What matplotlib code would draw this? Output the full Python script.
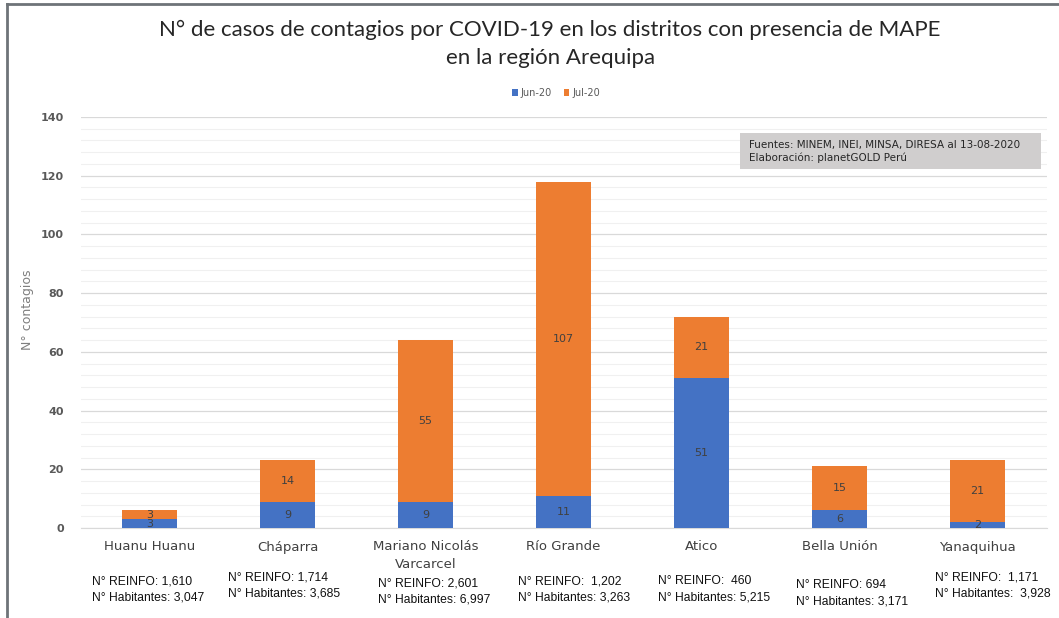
import numpy as np
import matplotlib.pyplot as plt
from matplotlib.patches import Rectangle
from matplotlib.lines import Line2D

# datos
distritos = ["Huanu Huanu", "Cháparra", "Mariano Nicolás\nVarcarcel", "Río Grande",
             "Atico", "Bella Unión", "Yanaquihua"]
jun20 = [3, 9, 9, 11, 51, 6, 2]
jul20 = [3, 14, 55, 107, 21, 15, 21]
reinfo = ["1,610", "1,714", "2,601", " 1,202", " 460", "694", " 1,171"]
habitantes = ["3,047", "3,685", "6,997", "3,263", "5,215", "3,171", " 3,928"]

azul = "#4472C4"
naranja = "#ED7D31"
gris = "#595959"

W, H = 1059, 618
fig = plt.figure(figsize=(W / 100, H / 100), dpi=100)

def fx(px):
    return px / W

def fy(py):
    return 1 - py / H

ax = fig.add_axes([fx(80.5), fy(528), fx(966), fy(117) - fy(528)])

x = np.arange(len(distritos))
ax.bar(x, jun20, width=0.4, color=azul, zorder=3, label="Jun-20")
ax.bar(x, jul20, width=0.4, bottom=jun20, color=naranja, zorder=3, label="Jul-20")

for i in range(len(distritos)):
    ax.text(x[i], jun20[i] / 2, str(jun20[i]), ha="center", va="center",
            fontsize=8, color="#404040", zorder=4)
    ax.text(x[i], jun20[i] + jul20[i] / 2, str(jul20[i]), ha="center", va="center",
            fontsize=8, color="#404040", zorder=4)

ax.set_xlim(-0.5, len(distritos) - 0.5)
ax.set_ylim(0, 140)
ax.set_yticks(np.arange(0, 141, 20))
ax.set_yticks(np.arange(0, 141, 4), minor=True)
ax.grid(axis="y", which="major", color="#D9D9D9", lw=0.9, zorder=0)
ax.grid(axis="y", which="minor", color="#F0F0F0", lw=0.8, zorder=0)
for s in ["top", "right", "left"]:
    ax.spines[s].set_visible(False)
ax.spines["bottom"].set_color("#D9D9D9")
ax.tick_params(axis="y", which="both", length=0, pad=12, labelsize=8, labelcolor=gris)
for t in ax.get_yticklabels():
    t.set_fontweight("bold")
ax.tick_params(axis="x", length=0, pad=9, labelsize=9.5, labelcolor="#404040")
ax.set_xticks(x)
ax.set_xticklabels(distritos, linespacing=1.4)
ax.set_ylabel("N° contagios", fontsize=9, color="#7F7F7F", fontweight="medium")
ax.yaxis.set_label_coords(-(80.5 - 34) / 966, 0.53)

# titulo y leyenda
fig.text(0.5195, fy(30), "N° de casos de contagios por COVID-19 en los distritos con presencia de MAPE",
         ha="center", va="center", fontsize=16, color="#262626", family="Lato")
fig.text(0.5195, fy(58), "en la región Arequipa",
         ha="center", va="center", fontsize=16, color="#262626", family="Lato")
leg = fig.legend(loc="center", bbox_to_anchor=(fx(556), fy(93)), ncol=2, frameon=False,
                 fontsize=7, handlelength=0.6, handleheight=0.6, handletextpad=0.3,
                 columnspacing=1.2)
for t in leg.get_texts():
    t.set_color(gris)

# cuadro de fuentes
fig.patches.append(Rectangle((fx(740), fy(169)), fx(301), fy(133) - fy(169),
                             transform=fig.transFigure, facecolor="#D0CECE",
                             edgecolor="none", zorder=5))
fig.text(fx(749), fy(145), "Fuentes: MINEM, INEI, MINSA, DIRESA al 13-08-2020",
         fontsize=7.5, color="#262626", va="center", zorder=6)
fig.text(fx(749), fy(158), "Elaboración: planetGOLD Perú",
         fontsize=7.5, color="#262626", va="center", zorder=6)

# notas por distrito
notas_x = [92, 228, 378, 518, 658, 796, 935]
notas_y = [581, 577, 583, 581, 581, 585, 578]
for i in range(len(distritos)):
    fig.text(fx(notas_x[i]), fy(notas_y[i]), "N° REINFO: " + reinfo[i],
             fontsize=8.7, color="#111111", va="center", family="Liberation Sans")
    fig.text(fx(notas_x[i]), fy(notas_y[i] + 16), "N° Habitantes: " + habitantes[i],
             fontsize=8.7, color="#111111", va="center", family="Liberation Sans")

# marco
fig.lines.append(Line2D([fx(7), fx(7)], [0, fy(4)], transform=fig.transFigure,
                        color="#6E7378", lw=2))
fig.lines.append(Line2D([fx(7), 1], [fy(4), fy(4)], transform=fig.transFigure,
                        color="#6E7378", lw=2))

fig.savefig("out.png", dpi=100)
